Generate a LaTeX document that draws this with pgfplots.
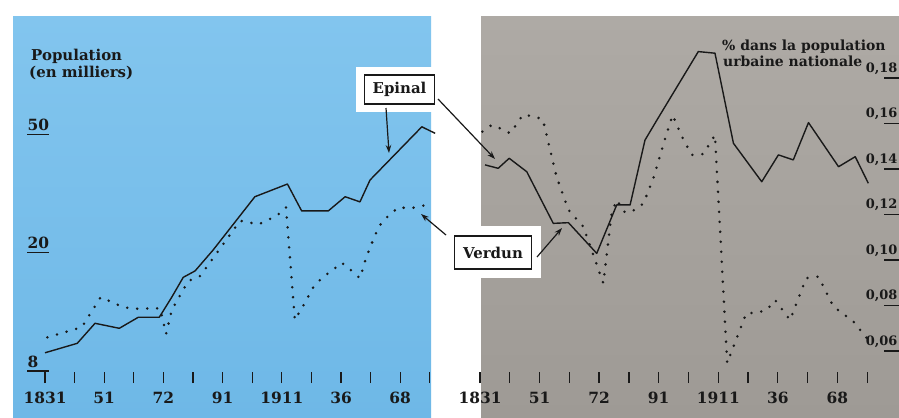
\documentclass[border=0pt]{standalone}
\usepackage{fontspec}
\setmainfont{DejaVu Serif}
\usepackage{pgfplots}
\pgfplotsset{compat=1.18}
\usetikzlibrary{arrows.meta}
\definecolor{bluetop}{RGB}{130,197,238}
\definecolor{bluebot}{RGB}{110,184,231}
\definecolor{graytop}{RGB}{174,170,165}
\definecolor{graybot}{RGB}{158,154,149}
\definecolor{ink}{RGB}{25,25,25}
\newcommand{\lab}{\fontsize{15}{18}\selectfont\bfseries}
\newcommand{\tlab}{\fontsize{15.5}{18}\selectfont\bfseries}
\pgfplotsset{
  panel/.style={
    scale only axis, anchor=south west,
    width=#1, height=366bp,
    clip=false,
    axis line style={draw=none},
    xtick={0,...,13},
    xticklabels={1831,,51,,72,,91,,1911,,36,,68,},
    xtick pos=bottom, xtick align=inside, ytick align=inside,
    major tick length=11bp,
    xtick style={/pgfplots/major tick length=11bp, line width=1.3bp, ink},
    minor tick style={draw=none},
    ticklabel style={font=\tlab, text=ink},
    xticklabel style={yshift=-6bp},
  },
  epinal/.style={ink, line width=1.4bp, line join=round},
  verdun/.style={ink, line width=2.8bp, line cap=round, dash pattern=on 0bp off 10bp},
}
\begin{document}
\begin{tikzpicture}[x=1bp,y=1bp]
\fill[white] (0,0) rectangle (899,417);
\shade[top color=bluetop,bottom color=bluebot] (13,0) rectangle (431,400);
\shade[top color=graytop,bottom color=graybot] (481,0) rectangle (899,400);
\fill[white] (356,305) rectangle (442,350);
\fill[white] (446,139) rectangle (541,191);

% left panel: population (thousands), log scale
\begin{axis}[panel=404bp, at={(27bp,34bp)},
  xmin=-0.608, xmax=13.04,
  ymode=log, ymin=7.291, ymax=123.7,
  ytick={8,20,50}, yticklabels={8,20,50}, ytick pos=left,
  ytick style={/pgfplots/major tick length=22bp, line width=1.1bp, ink},
  yticklabel style={anchor=south west, xshift=-3bp},
]
\addplot[epinal] coordinates {
(0,9.21) (1.09,9.91) (1.69,11.57) (2.51,11.13) (3.15,12.12) (3.86,12.12)
(4.28,14.15) (4.67,16.51) (5.07,17.35) (5.68,20.4) (7.09,30.8) (8.19,33.98)
(8.67,27.6) (9.57,27.6) (10.14,30.8) (10.64,29.6) (10.98,35.05) (12.73,52.9) (13.18,50.3)};
\addplot[verdun] coordinates {
(0.08,10.38) (1.24,11.22) (1.88,14.15) (2.26,13.64) (2.60,13.15) (2.97,12.95)
(3.89,12.99) (4.09,10.65) (4.28,12.82) (4.84,16.05) (5.24,16.68) (6.59,25.58)
(7.22,24.88) (7.83,26.59) (8.14,28.38) (8.44,11.87) (8.78,13.54) (9.07,15.35)
(9.38,16.51) (9.72,17.47) (10.02,18.49) (10.36,17.38) (10.64,16.39) (10.86,19.37)
(11.15,22.9) (11.32,24.75) (11.60,26.59) (11.94,28.38) (12.33,28.16) (12.73,28.66) (13.10,29.4)};
\end{axis}

% right panel: share of national urban population (%)
\begin{axis}[panel=420bp, at={(479bp,34bp)},
  xmin=-0.0336, xmax=14.07,
  ymin=0.04593, ymax=0.20681,
  ytick={0.06,0.08,0.10,0.12,0.14,0.16,0.18},
  yticklabels={{0,06},{0,08},{0,10},{0,12},{0,14},{0,16},{0,18}},
  ytick pos=right,
  ytick style={/pgfplots/major tick length=15bp, line width=1.1bp, ink},
  yticklabel style={anchor=south east, inner xsep=0.5bp, xshift=-1bp, font=\fontsize{13}{15}\selectfont\bfseries},
]
\addplot[epinal] coordinates {
(0.17,0.1418) (0.61,0.1403) (0.98,0.1447) (1.57,0.1388) (2.46,0.1161) (2.97,0.1164)
(3.92,0.1029) (4.59,0.1242) (5.04,0.1242) (5.54,0.1527) (5.94,0.1615) (7.33,0.1916)
(7.89,0.1909) (8.51,0.1513) (9.46,0.1344) (10.02,0.1462) (10.52,0.1440) (11.03,0.1604)
(12.04,0.1410) (12.60,0.1454) (13.04,0.1337)};
\addplot[verdun] coordinates {
(0.08,0.1564) (0.39,0.1593) (0.67,0.1579) (1.01,0.1557) (1.23,0.1596) (1.43,0.1637)
(1.77,0.1633) (2.11,0.1618) (2.57,0.1366) (2.97,0.1220) (3.47,0.1146) (4.14,0.0898)
(4.42,0.1207) (4.59,0.1264) (4.87,0.1208) (5.21,0.1220) (5.49,0.1249) (5.82,0.1359)
(6.22,0.1535) (6.47,0.1637) (6.78,0.1542) (7.11,0.1462) (7.50,0.1466) (7.89,0.1549)
(8.30,0.0547) (8.51,0.0619) (8.79,0.0714) (8.94,0.0766) (9.27,0.0768) (9.63,0.0780)
(9.91,0.0824) (10.41,0.0736) (10.95,0.0920) (11.36,0.0927) (11.87,0.0795) (12.54,0.0729) (13.04,0.0648)};
\end{axis}

% titles
\node[anchor=base west, inner sep=0, font=\lab, text=ink] at (31,357) {Population};
\node[anchor=base west, inner sep=0, font=\lab, text=ink] at (29,340) {(en milliers)};
\node[anchor=base west, inner sep=0, font=\fontsize{14}{17}\selectfont\bfseries, text=ink] at (722,367) {\% dans la population};
\node[anchor=base west, inner sep=0, font=\fontsize{14}{17}\selectfont\bfseries, text=ink] at (723,351) {urbaine nationale};

% labels with arrows
\node[draw=ink, line width=1.2bp, fill=white, minimum width=70bp, minimum height=29bp, inner sep=0, font=\lab, text=ink] at (399.5,327.5) {Epinal};
\node[draw=ink, line width=1.2bp, fill=white, minimum width=77bp, minimum height=33bp, inner sep=0, font=\lab, text=ink] at (493,164.5) {Verdun};
\draw[ink, line width=1.2bp, -{Stealth[length=8bp,width=5.5bp]}] (386,309) -- (389,264);
\draw[ink, line width=1.2bp, -{Stealth[length=8bp,width=5.5bp]}] (438,318) -- (495,258);
\draw[ink, line width=1.2bp, -{Stealth[length=8bp,width=5.5bp]}] (446,182) -- (421,203);
\draw[ink, line width=1.2bp, -{Stealth[length=8bp,width=5.5bp]}] (537,160) -- (562,189);

\pgfresetboundingbox
\path[use as bounding box] (0,0) rectangle (899,417);
\end{tikzpicture}
\end{document}
